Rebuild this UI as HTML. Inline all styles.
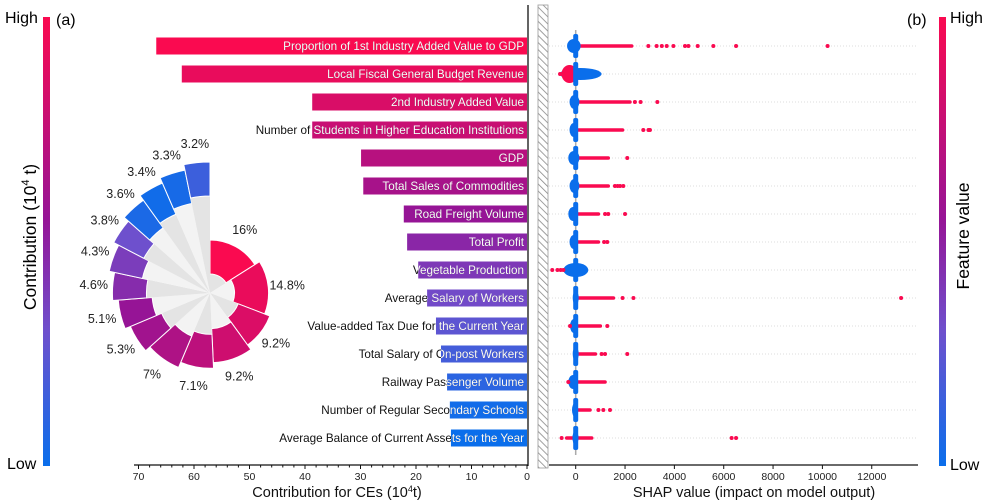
<!DOCTYPE html>
<html><head><meta charset="utf-8">
<style>
html,body{margin:0;padding:0;background:#fff;}
svg{display:block;font-family:"Liberation Sans",Arial,sans-serif;}
</style></head>
<body>
<svg id="chart" width="987" height="501" viewBox="0 0 987 501">
<defs>
<linearGradient id="cbar" x1="0" y1="1" x2="0" y2="0">
<stop offset="0" stop-color="rgb(10,110,235)"/>
<stop offset="0.3" stop-color="rgb(110,80,205)"/>
<stop offset="0.55" stop-color="rgb(150,20,150)"/>
<stop offset="1" stop-color="rgb(250,10,80)"/>
</linearGradient>
<pattern id="hatch" width="5" height="5" patternUnits="userSpaceOnUse" patternTransform="rotate(-45)">
<rect width="5" height="5" fill="#fff"/>
<line x1="0" y1="0" x2="0" y2="5" stroke="#888" stroke-width="1.6"/>
</pattern>
</defs>
<g id="left-cbar">
<rect x="43" y="17" width="7" height="449" fill="url(#cbar)"/>
<text x="5" y="23" font-size="16">High</text>
<text x="7" y="469" font-size="16">Low</text>
<text transform="translate(36,237) rotate(-90)" text-anchor="middle" font-size="17.5">Contribution (10<tspan dy="-7" font-size="11">4</tspan><tspan dy="7"> t)</tspan></text>
<text x="56" y="25" font-size="16">(a)</text>
</g>
<g id="right-cbar">
<rect x="939" y="17" width="7" height="449" fill="url(#cbar)"/>
<text x="950" y="23" font-size="16">High</text>
<text x="950" y="470" font-size="16">Low</text>
<text transform="translate(969,236) rotate(-90)" text-anchor="middle" font-size="17.5">Feature value</text>
<text x="907" y="25" font-size="16">(b)</text>
</g>
<g id="bars"></g>
<g id="polar"></g>
<g id="shap"></g>
<g id="axes"></g>
</svg>
<script>
const features = ["Proportion of 1st Industry Added Value to GDP","Local Fiscal General Budget Revenue","2nd Industry Added Value","Number of Students in Higher Education Institutions","GDP","Total Sales of Commodities","Road Freight Volume","Total Profit","Vegetable Production","Average Salary of Workers","Value-added Tax Due for the Current Year","Total Salary of On-post Workers","Railway Passenger Volume","Number of Regular Secondary Schools","Average Balance of Current Assets for the Year"];
const contributions = [66.8,62.2,38.7,38.7,29.9,29.5,22.2,21.6,19.6,18.0,16.4,15.5,14.4,13.9,13.7];
const barTicks = [70,60,50,40,30,20,10,0];
const pieShares = [16,14.8,9.2,9.2,7.1,7,5.3,5.1,4.6,4.3,3.8,3.6,3.4,3.3,3.2];
const pieLabels = ["16%","14.8%","9.2%","9.2%","7.1%","7%","5.3%","5.1%","4.6%","4.3%","3.8%","3.6%","3.4%","3.3%","3.2%"];
const pieColorT = [1,0.93,0.86,0.8,0.72,0.66,0.6,0.55,0.45,0.38,0.3,0.05,0.02,0.04,0.15];
const shapTicks = [0,2000,4000,6000,8000,10000,12000];
const coreLo = [-350,-650,-250,-250,-300,-250,-300,-250,-500,-100,-230,-100,-300,-150,-100];
const coreHi = [200,1050,150,100,150,150,100,100,510,100,100,100,100,100,80];
const tailEnd = [2270,0,2200,1900,1320,1320,920,920,0,1530,1000,800,1190,580,650];
const tailStart = [200,0,150,100,150,150,100,100,0,100,100,100,100,100,-365];
const extraPts = [[2945,3280,3490,3690,3960,4430,4570,4945,5580,6500,10210],[-635,-550],[2400,2630,3310],[2740,2950,3010],[2090],[1590,1700,1800,1930],[1190,1320,2000],[1150,1280],[-950,-740,-610,-500],[1900,2340,13190],[1280,-230],[1050,1190,2090],[-300],[920,1120,1390],[-570,6320,6500]];
const NS="http://www.w3.org/2000/svg";
function mk(tag,attrs,parent){const e=document.createElementNS(NS,tag);for(const k in attrs)e.setAttribute(k,attrs[k]);parent.appendChild(e);return e;}
function cmap(t){const s=[[0,10,110,235],[0.3,110,80,205],[0.55,150,20,150],[1,250,10,80]];t=Math.max(0,Math.min(1,t));for(let i=0;i<s.length-1;i++){if(t<=s[i+1][0]){const f=(t-s[i][0])/(s[i+1][0]-s[i][0]);return `rgb(${Math.round(s[i][1]+f*(s[i+1][1]-s[i][1]))},${Math.round(s[i][2]+f*(s[i+1][2]-s[i][2]))},${Math.round(s[i][3]+f*(s[i+1][3]-s[i][3]))})`;}}return "rgb(250,10,80)";}
const RED="rgb(250,10,80)",BLUE="rgb(10,110,235)";
const xBar=v=>527-v*5.55;
const rowY=i=>46+i*28;
const xShap=v=>575.7+v*0.02467;
// bars
const gb=document.getElementById('bars');
features.forEach((f,i)=>{
  const y=rowY(i), x0=xBar(contributions[i]);
  const col=cmap(1-i/14*1.05);
  const r=mk('rect',{x:x0,y:y-8.5,width:527-x0,height:17,fill:col},gb);
  
  
  const cp=mk('clipPath',{id:'cp'+i},gb);mk('rect',{x:x0,y:y-9,width:527-x0,height:18},cp);
  const t1=mk('text',{x:524,y:y+4,'text-anchor':'end','font-size':'11.7',fill:'#111'},gb);t1.textContent=f;
  
  
  const t2=mk('text',{x:524,y:y+4,'text-anchor':'end','font-size':'11.7',fill:'#fff','clip-path':'url(#cp'+i+')'},gb);t2.textContent=f;
  
  
});
// polar
const gp=document.getElementById('polar');
const cx=210,cy=293;
function pt(a,r){const rad=a*Math.PI/180;return [cx+r*Math.sin(rad),cy-r*Math.cos(rad)];}
function wedge(a0,a1,r0,r1){const p1=pt(a0,r1),p2=pt(a1,r1),p3=pt(a1,r0),p4=pt(a0,r0);const lg=(a1-a0)>180?1:0;
return `M${p4[0]},${p4[1]}L${p1[0]},${p1[1]}A${r1},${r1} 0 ${lg} 1 ${p2[0]},${p2[1]}L${p3[0]},${p3[1]}`+(r0>0?`A${r0},${r0} 0 ${lg} 0 ${p4[0]},${p4[1]}`:'')+'Z';}
const total=pieShares.reduce((a,b)=>a+b,0);
let acc=0;
pieShares.forEach((s,i)=>{
  const a0=acc/total*360, a1=(acc+s)/total*360; acc+=s;
  const ro=53+i*5.57, ri=ro-34;
  const g=mk('path',{d:wedge(a0,a1,0,ri),fill:i%2?'#f3f3f3':'#e4e4e4'},gp);
  
  
  const w=mk('path',{d:wedge(a0,a1,ri,ro),fill:cmap(pieColorT[i]),stroke:'#fff','stroke-width':'1'},gp);
  
  
  const lp=pt((a0+a1)/2,ro+19);
  const t=mk('text',{x:lp[0],y:lp[1]+4,'text-anchor':'middle','font-size':'12.5',fill:'#222'},gp);t.textContent=pieLabels[i];
  
  
});
// shap
const gs=document.getElementById('shap');
const zl=mk('line',{x1:xShap(0),y1:30,x2:xShap(0),y2:455,stroke:'#aaa','stroke-width':'1.5'},gs);

features.forEach((f,i)=>{
  const y=rowY(i);
  const gl=mk('line',{x1:549,y1:y,x2:918,y2:y,stroke:'#ddd','stroke-dasharray':'1,2'},gs);
  
  if(tailEnd[i]>0){
    const tl=mk('line',{x1:xShap(tailStart[i]),y1:y,x2:xShap(tailEnd[i]),y2:y,stroke:RED,'stroke-width':'3.5','stroke-linecap':'round'},gs);
    
  }
  const x0=xShap(coreLo[i]),x1=xShap(coreHi[i]);
  const c=mk('ellipse',{cx:(x0+x1)/2,cy:y,rx:Math.max(3,(x1-x0)/2),ry:i===1?6:7,fill:BLUE},gs);
  
  if(i===1){const rc=mk('ellipse',{cx:xShap(-250),cy:y,rx:8,ry:9,fill:RED},gs);}
  const vl=mk('rect',{x:xShap(0)-2.5,y:y-12,width:5,height:24,rx:2,fill:BLUE},gs);
  
  extraPts[i].forEach((v,j)=>{
    const d=mk('circle',{cx:xShap(v),cy:y,r:2,fill:RED},gs);
    
    
  });
});
// axes
const ga=document.getElementById('axes');
function L(x1,y1,x2,y2,name,w){const l=mk('line',{x1,y1,x2,y2,stroke:'#111','stroke-width':w||1.3},ga);return l;}
L(134,465,528,465,'bar-x-axis');
L(528,5,528,466,'bar-y-axis');
const hb=mk('rect',{x:538,y:5,width:10,height:463,fill:'url(#hatch)',stroke:'#999','stroke-width':'0.8'},ga);

L(549,465,918,465,'shap-x-axis');
for(let v=0;v<=70;v+=2){const x=xBar(v);L(x,465,x,v%10===0?469:467.5,'bar-x-tick',1);}
barTicks.forEach(v=>{const t=mk('text',{x:xBar(v),y:480,'text-anchor':'middle','font-size':'10.5',fill:'#222'},ga);t.textContent=v;});
shapTicks.forEach(v=>{const x=xShap(v);L(x,465,x,469,'shap-x-tick',1);const t=mk('text',{x:x,y:480,'text-anchor':'middle','font-size':'10.5',fill:'#222'},ga);t.textContent=v;});
const bt=mk('text',{x:337,y:497,'text-anchor':'middle','font-size':'14.5',fill:'#111'},ga);
bt.innerHTML='Contribution for CEs (10<tspan dy="-5" font-size="9">4</tspan><tspan dy="5">t)</tspan>';

const st=mk('text',{x:754,y:497,'text-anchor':'middle','font-size':'14.5',fill:'#111'},ga);
st.textContent='SHAP value (impact on model output)';

</script>
</body></html>
